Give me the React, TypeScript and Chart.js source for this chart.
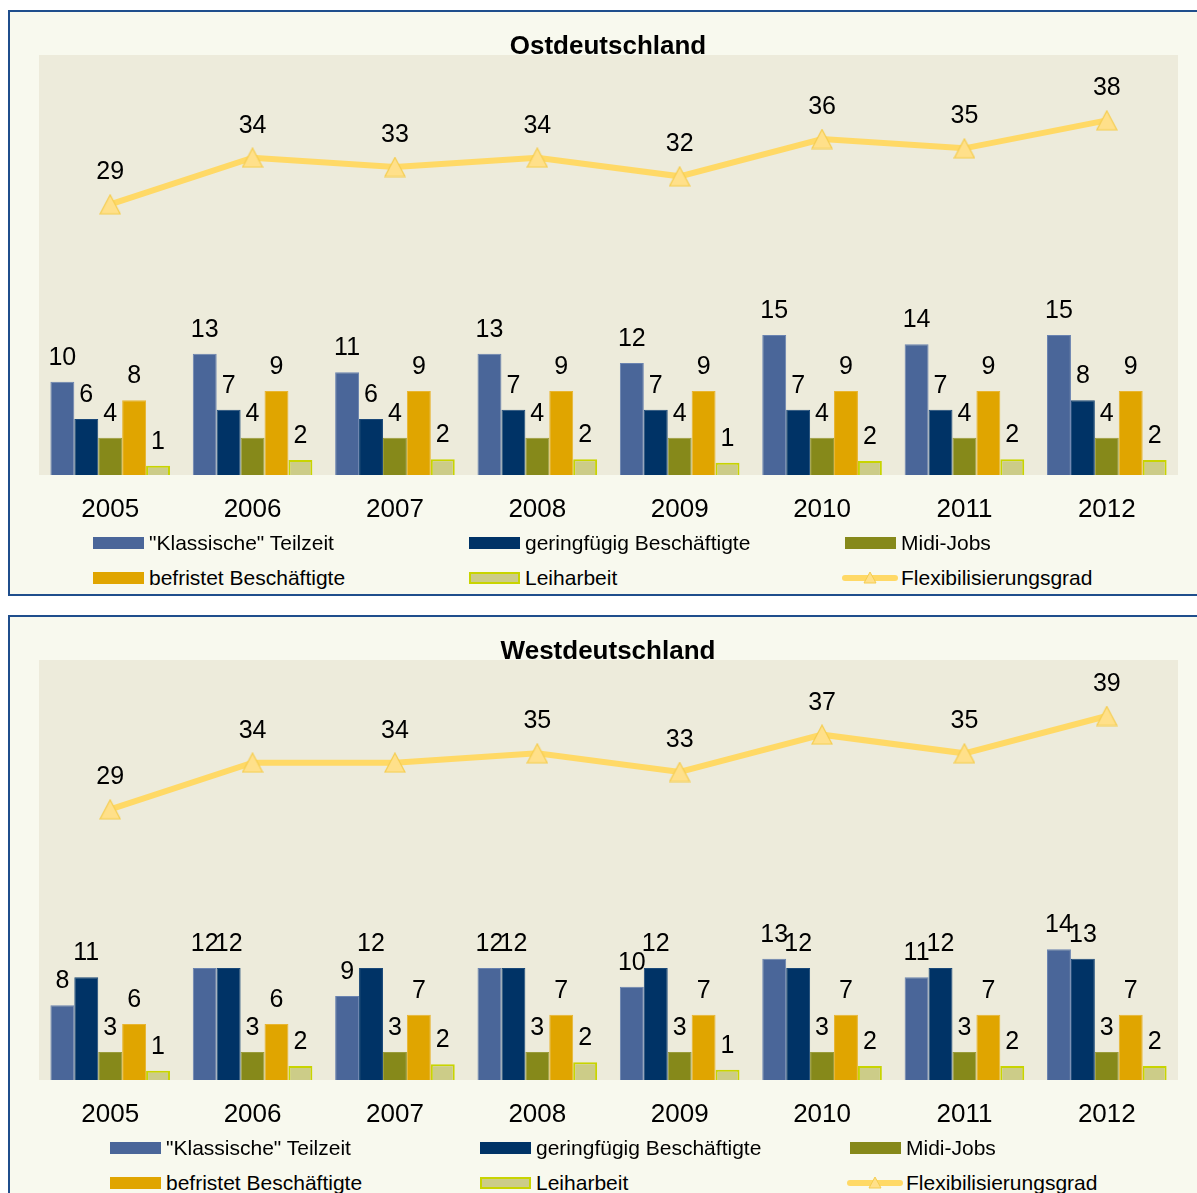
import React, { useEffect, useRef } from "react";
import { Chart, registerables } from "chart.js";

Chart.register(...registerables);

const FONT = "'Liberation Sans', Arial, sans-serif";

const years = ["2005", "2006", "2007", "2008", "2009", "2010", "2011", "2012"];
const seriesNames = [
  '"Klassische" Teilzeit',
  "geringfügig Beschäftigte",
  "Midi-Jobs",
  "befristet Beschäftigte",
  "Leiharbeit",
  "Flexibilisierungsgrad",
];

const ostKlassisch = [10, 13, 11, 13, 12, 15, 14, 15];
const ostGeringfuegig = [6, 7, 6, 7, 7, 7, 7, 8];
const ostMidi = [4, 4, 4, 4, 4, 4, 4, 4];
const ostBefristet = [8, 9, 9, 9, 9, 9, 9, 9];
const ostLeih = [1.0, 1.6, 1.7, 1.7, 1.3, 1.5, 1.7, 1.6];
const ostFlex = [29, 34, 33, 34, 32, 36, 35, 38];

const westKlassisch = [8, 12, 9, 12, 10, 13, 11, 14];
const westGeringfuegig = [11, 12, 12, 12, 12, 12, 12, 13];
const westMidi = [3, 3, 3, 3, 3, 3, 3, 3];
const westBefristet = [6, 6, 7, 7, 7, 7, 7, 7];
const westLeih = [1.0, 1.5, 1.7, 1.9, 1.1, 1.5, 1.5, 1.5];
const westFlex = [29, 34, 34, 35, 33, 37, 35, 39];

const barColors = ["#4A6699", "#003366", "#86891A", "#E0A500", "#CCCC88"];
const barBorders = ["#6A83B0", "#1A4878", "#9A9C3A", "#E8B531", "#C8D400"];
const lineColor = "#FFD966";

function makeTriangle(): HTMLCanvasElement {
  const c = document.createElement("canvas");
  c.width = 22;
  c.height = 21;
  const ctx = c.getContext("2d")!;
  ctx.beginPath();
  ctx.moveTo(11, 1);
  ctx.lineTo(21, 20);
  ctx.lineTo(1, 20);
  ctx.closePath();
  ctx.fillStyle = "#FFE08A";
  ctx.fill();
  ctx.strokeStyle = "#F5CD4F";
  ctx.lineWidth = 1.2;
  ctx.stroke();
  return c;
}

const bgPlugin = {
  id: "plotBg",
  beforeDraw(chart: any) {
    const { ctx, chartArea } = chart;
    ctx.save();
    ctx.fillStyle = "#EDEBDB";
    ctx.fillRect(chartArea.left, chartArea.top, chartArea.right - chartArea.left, chartArea.bottom - chartArea.top);
    ctx.restore();
  },
};

const titlePlugin = {
  id: "panelTitle",
  afterDraw(chart: any) {
    const ctx = chart.ctx;
    const t = chart.options.plugins.panelTitle?.text || "";
    ctx.save();
    ctx.fillStyle = "#000";
    ctx.font = `bold 26px ${FONT}`;
    ctx.textAlign = "center";
    ctx.textBaseline = "middle";
    ctx.fillText(t, 598, 35);
    ctx.restore();
  },
};

const labelPlugin = {
  id: "valueLabels",
  afterDatasetsDraw(chart: any) {
    const ctx = chart.ctx;
    ctx.save();
    ctx.fillStyle = "#000";
    ctx.textAlign = "center";
    ctx.textBaseline = "middle";
    ctx.font = `25px ${FONT}`;
    chart.data.datasets.forEach((ds: any, i: number) => {
      const meta = chart.getDatasetMeta(i);
      const isLine = ds.type === "line";
      meta.data.forEach((el: any, j: number) => {
        const v = ds.data[j];
        ctx.fillText(String(Math.round(v)), el.x, el.y - (isLine ? 32 : 24));
      });
    });
    ctx.restore();
  },
};

type PanelProps = {
  title: string;
  top: number;
  height: number;
  series: number[][];
  flex: number[];
  markerLefts: number[];
  textLefts: number[];
};

function LegendMarker({ idx }: { idx: number }) {
  if (idx === 5) {
    return (
      <svg width={56} height={16} style={{ display: "block" }}>
        <line x1={3} y1={8} x2={53} y2={8} stroke={lineColor} strokeWidth={6} strokeLinecap="round" />
        <polygon points="28,2 22,13 34,13" fill="#FFE08A" stroke="#F5CD4F" strokeWidth={1} />
      </svg>
    );
  }
  const isLeih = idx === 4;
  return (
    <div
      style={{
        width: 51,
        height: 12,
        boxSizing: "border-box",
        background: barColors[idx],
        border: isLeih ? `2px solid ${barBorders[4]}` : "none",
      }}
    />
  );
}

function Panel({ title, top, height, series, flex, markerLefts, textLefts }: PanelProps) {
  const ref = useRef<HTMLCanvasElement | null>(null);

  useEffect(() => {
    if (!ref.current) return;
    const tri = makeTriangle();
    const chart = new Chart(ref.current, {
      type: "bar",
      data: {
        labels: years,
        datasets: [
          {
            type: "line",
            label: seriesNames[5],
            data: flex,
            borderColor: lineColor,
            borderWidth: 6,
            pointStyle: tri,
            pointRadius: 11,
            order: 0,
          } as any,
          ...series.map((d, i) => ({
            type: "bar",
            label: seriesNames[i],
            data: d,
            backgroundColor: barColors[i],
            borderColor: barBorders[i],
            borderWidth: i === 4 ? 2 : 1,
            order: 1,
          })),
        ],
      },
      options: {
        animation: false,
        responsive: false,
        devicePixelRatio: 1,
        layout: { padding: { left: 29, right: 28, top: 43, bottom: 0 } },
        datasets: { bar: { categoryPercentage: 0.84, barPercentage: 1 } } as any,
        plugins: {
          legend: { display: false },
          tooltip: { enabled: false },
          title: { display: false },
          panelTitle: { text: title },
        } as any,
        scales: {
          x: {
            grid: { display: false, drawTicks: false },
            border: { display: false },
            ticks: { color: "#000", font: { family: FONT, size: 26 }, padding: 19 },
            afterFit: (scale: any) => {
              scale.height = 57;
            },
          },
          y: { display: false, min: 0, max: 45 },
        },
      },
      plugins: [bgPlugin, labelPlugin, titlePlugin],
    });
    return () => chart.destroy();
  }, []);

  const rows = [
    [0, 1, 2],
    [3, 4, 5],
  ];
  const rowCenters = [531, 566];

  return (
    <div
      style={{
        position: "absolute",
        left: 8,
        top,
        width: 1200,
        height,
        boxSizing: "border-box",
        border: "2px solid #1F4E8C",
        background: "#F8F9EE",
      }}
    >
      <canvas ref={ref} width={1196} height={520} style={{ position: "absolute", left: 0, top: 0 }} />
      {rows.map((row, r) =>
        row.map((idx, c) => (
          <React.Fragment key={`${r}-${c}`}>
            <div
              style={{
                position: "absolute",
                left: idx === 5 ? markerLefts[c] - 3 : markerLefts[c],
                top: rowCenters[r] - (idx === 5 ? 8 : 6),
              }}
            >
              <LegendMarker idx={idx} />
            </div>
            <div
              style={{
                position: "absolute",
                left: textLefts[c],
                top: rowCenters[r] - 12,
                height: 24,
                lineHeight: "24px",
                fontFamily: FONT,
                fontSize: 21,
                color: "#000",
                whiteSpace: "nowrap",
              }}
            >
              {seriesNames[idx]}
            </div>
          </React.Fragment>
        ))
      )}
    </div>
  );
}

export default function App() {
  return (
    <div
      style={{
        position: "fixed",
        left: 0,
        top: 0,
        width: 1197,
        height: 1193,
        overflow: "hidden",
        background: "#fff",
      }}
    >
      <Panel
        title="Ostdeutschland"
        top={10}
        height={586}
        series={[ostKlassisch, ostGeringfuegig, ostMidi, ostBefristet, ostLeih]}
        flex={ostFlex}
        markerLefts={[83, 459, 835]}
        textLefts={[139, 515, 891]}
      />
      <Panel
        title="Westdeutschland"
        top={615}
        height={600}
        series={[westKlassisch, westGeringfuegig, westMidi, westBefristet, westLeih]}
        flex={westFlex}
        markerLefts={[100, 470, 840]}
        textLefts={[156, 526, 896]}
      />
    </div>
  );
}
